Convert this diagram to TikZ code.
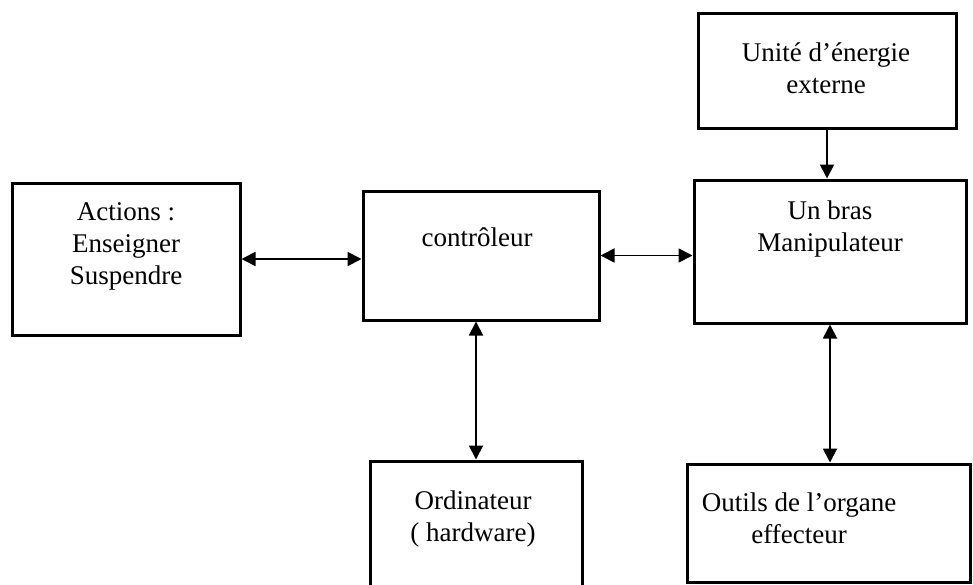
\documentclass[tikz,border=0pt]{standalone}
\usepackage{fontspec}
\setmainfont{Liberation Serif}
\usetikzlibrary{arrows.meta}

\tikzset{
  bloc/.style={draw, line width=3pt, inner sep=0pt, outer sep=1.5pt},
  txt/.style={align=center, inner sep=0pt, font=\fontsize{27}{32}\selectfont},
  tip/.tip={Triangle[length=14pt,width=14pt]},
  lien/.style={line width=1.8pt, tip-tip},
  fleche/.style={line width=1.8pt, -tip},
}

\begin{document}
\begin{tikzpicture}[x=1pt, y=-1pt]
        \useasboundingbox (0,0) rectangle (973,584);

        % Draw boxes
        \node[bloc, minimum width=228pt, minimum height=152pt] (actions) at (126,259) {};
        \node[bloc, minimum width=236pt, minimum height=129pt] (ctrl) at (481,255.5) {};
        \node[bloc, minimum width=272pt, minimum height=143pt] (bras) at (830,251.5) {};
        \node[bloc, minimum width=258pt, minimum height=115pt] (energie) at (827,70.5) {};
        \node[bloc, minimum width=212pt, minimum height=139pt] (ordi) at (476,530.5) {};
        \node[bloc, minimum width=283pt, minimum height=118pt] (outils) at (828.5,523) {};

        % Texts
        \node[txt] (actionsT) at (126,246) {Actions :\\Enseigner\\Suspendre};
        \node[txt] (ctrlT) at (477,237) {contrôleur};
        \node[txt] (brasT) at (830,229) {Un bras\\Manipulateur};
        \node[txt] (energieT) at (826,68) {Unité d’énergie\\externe};
        \node[txt] (ordiT) at (473,519) {Ordinateur\\( hardware)};
        \node[txt] (outilsT) at (799,518) {Outils de l’organe\\effecteur};

        % Draw arrows
        \draw[lien] (actions) -- (ctrl.west |- actions);
        \draw[lien] (ctrl) -- (bras.west |- ctrl);
        \draw[fleche] (energie) -- (bras.north -| energie);
        \draw[lien] (ctrl.south -| ordi) -- (ordi);
        \draw[lien] (bras) -- (outils.north -| bras);
\end{tikzpicture}
\end{document}
